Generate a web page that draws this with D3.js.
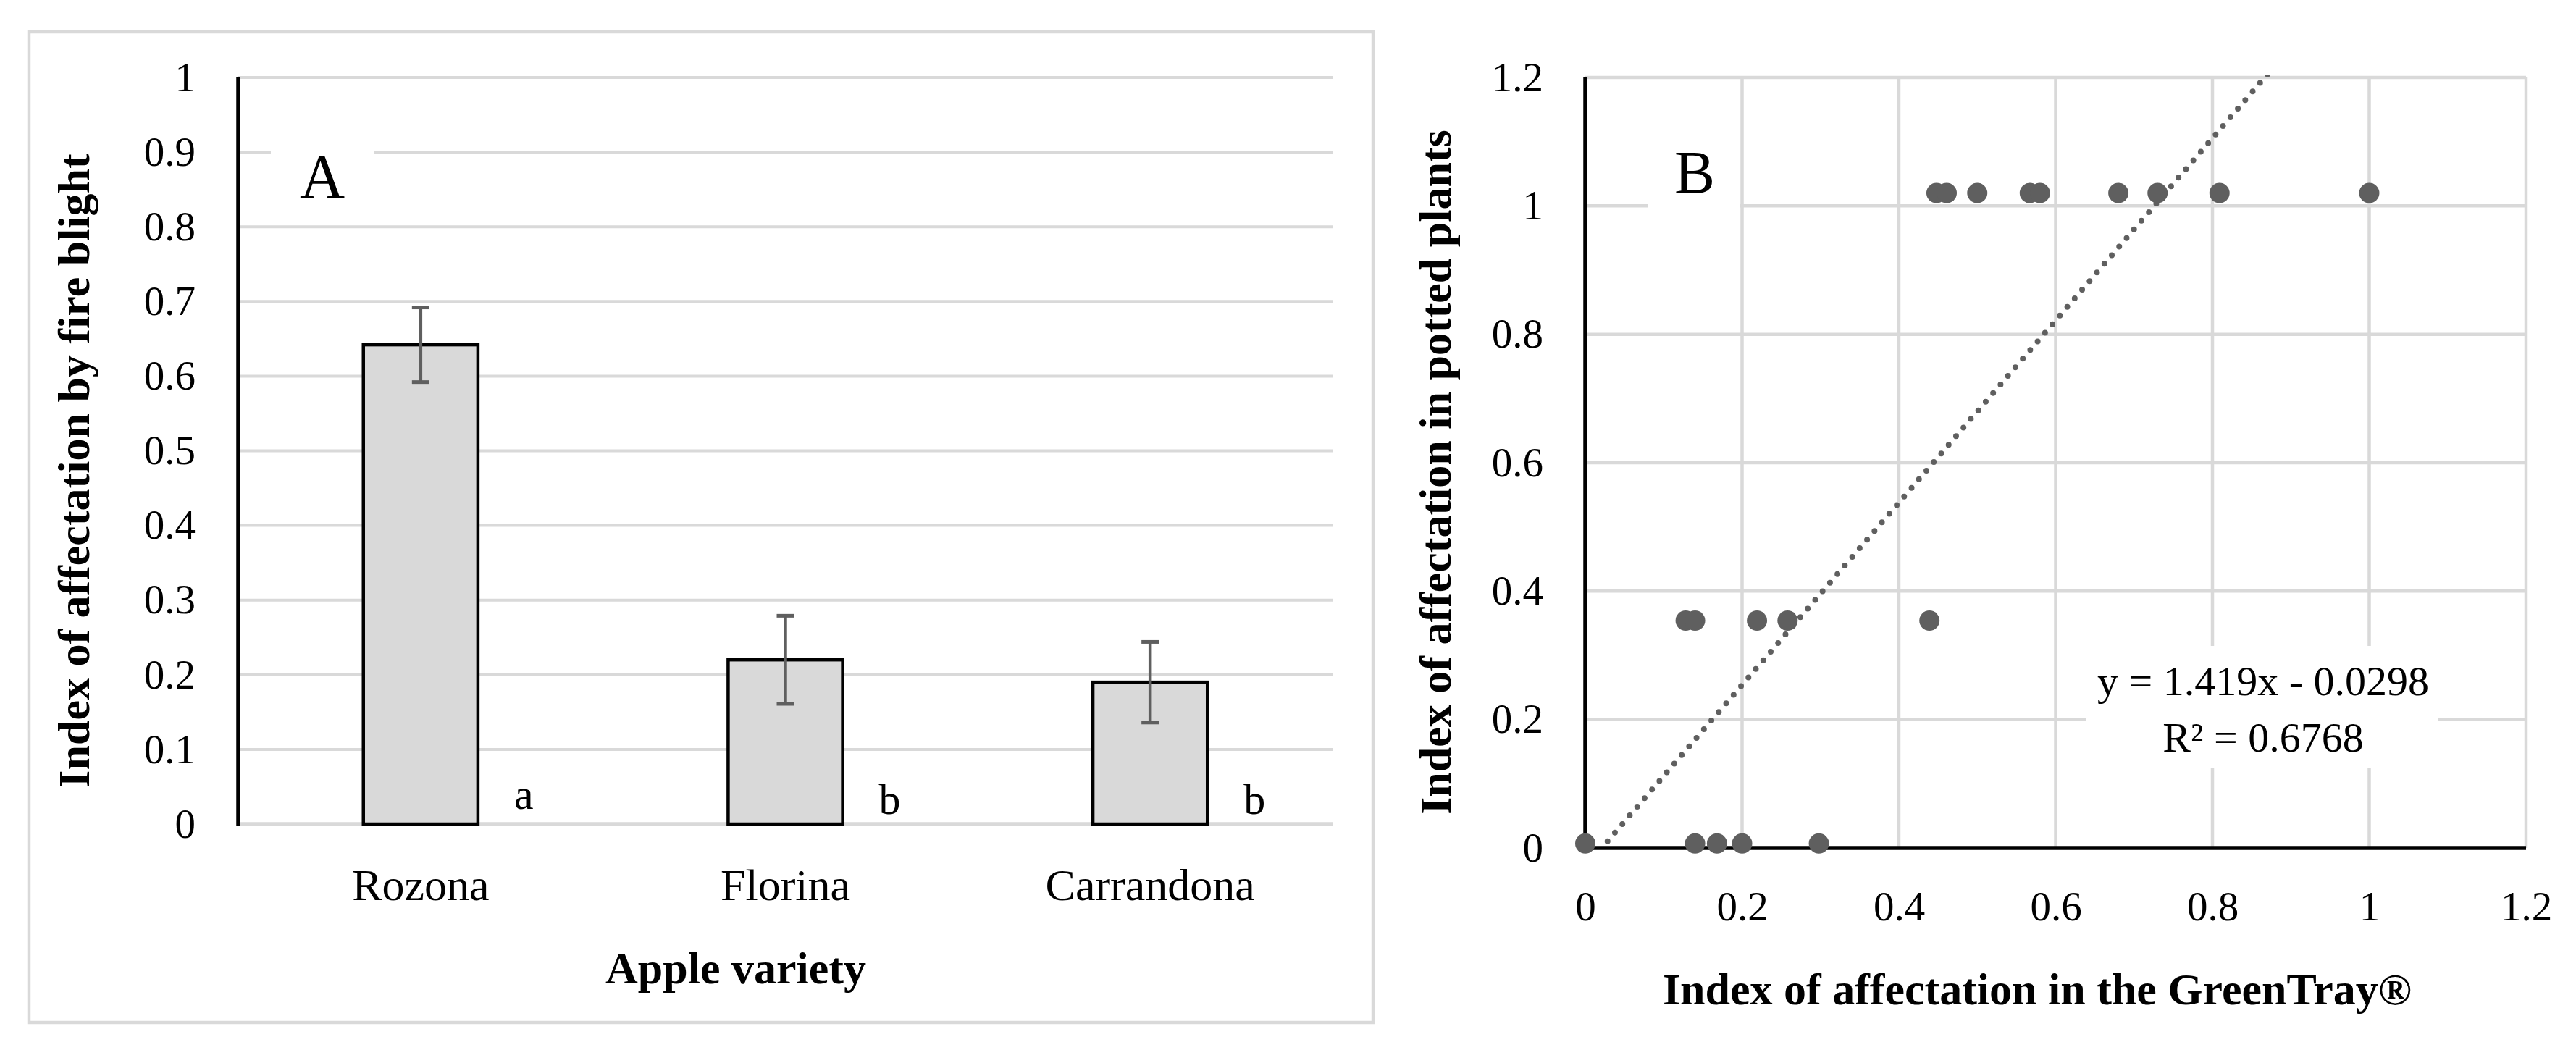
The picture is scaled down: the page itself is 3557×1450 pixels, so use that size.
<!DOCTYPE html>
<html>
<head>
<meta charset="utf-8">
<script src="https://cdn.jsdelivr.net/npm/d3@7"></script>
<style>
  html, body { margin: 0; padding: 0; background: #ffffff; }
  svg { display: block; }
  text { font-family: "Liberation Serif", "DejaVu Serif", serif; fill: #000; }
</style>
</head>
<body>
<script>
// ---------- Data: panel A ----------
const varieties = ["Rozona", "Florina", "Carrandona"];
const affectation = [0.642, 0.22, 0.19];
const affectationErr = [0.05, 0.059, 0.054];
const groupLetters = ["a", "b", "b"];
const yTicksA = [0, 0.1, 0.2, 0.3, 0.4, 0.5, 0.6, 0.7, 0.8, 0.9, 1];

// ---------- Data: panel B ----------
const greenTrayIndex = [0, 0.14, 0.168, 0.2, 0.298,
                        0.128, 0.14, 0.219, 0.258, 0.439,
                        0.448, 0.461, 0.5, 0.567, 0.58, 0.68, 0.73, 0.809, 1.0];
const pottedIndex    = [0.007, 0.007, 0.007, 0.007, 0.007,
                        0.354, 0.354, 0.354, 0.354, 0.354,
                        1.02, 1.02, 1.02, 1.02, 1.02, 1.02, 1.02, 1.02, 1.02];
const trendSlope = 1.419;
const trendIntercept = -0.0298;
const trendXRange = [0, 1];
const equationLines = ["y = 1.419x - 0.0298", "R\u00B2 = 0.6768"];
const ticksB = [0, 0.2, 0.4, 0.6, 0.8, 1, 1.2];

const W = 3557, H = 1450;
const GRID = "#d9d9d9";
const DARK = "#5f5f5f";

const svg = d3.select("body").append("svg")
  .attr("width", W).attr("height", H)
  .attr("viewBox", `0 0 ${W} ${H}`);
svg.append("rect").attr("width", W).attr("height", H).attr("fill", "#fff");

const fmt = d3.format("~g");

// ================= PANEL A =================
const gA = svg.append("g");
gA.append("rect")
  .attr("x", 40).attr("y", 44).attr("width", 1856).attr("height", 1368)
  .attr("fill", "none").attr("stroke", GRID).attr("stroke-width", 4.5);

const xA = d3.scaleBand().domain(varieties).range([329, 1840])
  .paddingInner(0.686).paddingOuter(0.343);
const yA = d3.scaleLinear().domain([0, 1]).range([1138, 107]);

// gridlines
gA.append("g").selectAll("line").data(yTicksA).join("line")
  .attr("x1", xA.range()[0]).attr("x2", xA.range()[1])
  .attr("y1", d => yA(d)).attr("y2", d => yA(d))
  .attr("stroke", GRID).attr("stroke-width", d => d === 0 ? 5.5 : 4);

// label box "A"
gA.append("rect").attr("x", 374).attr("y", 200).attr("width", 142).attr("height", 108).attr("fill", "#fff");
gA.append("text").attr("x", 445).attr("y", 273).attr("text-anchor", "middle")
  .style("font-size", "86px").text("A");

// bars
gA.append("g").selectAll("rect").data(varieties).join("rect")
  .attr("x", d => xA(d)).attr("width", xA.bandwidth())
  .attr("y", (d, i) => yA(affectation[i]))
  .attr("height", (d, i) => yA(0) - yA(affectation[i]))
  .attr("fill", "#d9d9d9").attr("stroke", "#000").attr("stroke-width", 4.5);

// error bars
const eb = gA.append("g").attr("stroke", DARK).attr("stroke-width", 4.5);
varieties.forEach((v, i) => {
  const cx = xA(v) + xA.bandwidth() / 2;
  const top = yA(affectation[i] + affectationErr[i]);
  const bot = yA(affectation[i] - affectationErr[i]);
  eb.append("line").attr("x1", cx).attr("x2", cx).attr("y1", top).attr("y2", bot);
  eb.append("line").attr("x1", cx - 12).attr("x2", cx + 12).attr("y1", top).attr("y2", top).attr("stroke-width", 5);
  eb.append("line").attr("x1", cx - 12).attr("x2", cx + 12).attr("y1", bot).attr("y2", bot).attr("stroke-width", 5);
});

// group letters
gA.append("g").selectAll("text").data(varieties).join("text")
  .attr("x", d => xA(d) + xA.bandwidth() + 50)
  .attr("y", (d, i) => groupLetters[i] === "a" ? 1117 : 1124)
  .style("font-size", "60px")
  .text((d, i) => groupLetters[i]);

// y axis A
const yAxisA = gA.append("g").attr("transform", `translate(329,0)`)
  .call(d3.axisLeft(yA).tickValues(yTicksA).tickSize(0).tickPadding(59).tickFormat(fmt));
yAxisA.select(".domain").remove();
yAxisA.selectAll("text").style("font-size", "57px").style("font-family", "Liberation Serif");
gA.append("line").attr("x1", 329).attr("x2", 329).attr("y1", yA(1)).attr("y2", yA(0) + 2)
  .attr("stroke", "#000").attr("stroke-width", 5.5);

// x axis A (labels)
const xAxisA = gA.append("g").attr("transform", `translate(0,${yA(0)})`)
  .call(d3.axisBottom(xA).tickSize(0).tickPadding(61));
xAxisA.select(".domain").remove();
xAxisA.selectAll("text").style("font-size", "62px").style("font-family", "Liberation Serif");

// titles A
gA.append("text").attr("x", 1016).attr("y", 1358).attr("text-anchor", "middle")
  .style("font-size", "62px").style("font-weight", "bold").text("Apple variety");
gA.append("text").attr("transform", "translate(123,650) rotate(-90)").attr("text-anchor", "middle")
  .style("font-size", "62px").style("font-weight", "bold").text("Index of affectation by fire blight");

// ================= PANEL B =================
const gB = svg.append("g");
const xB = d3.scaleLinear().domain([0, 1.2]).range([2189, 3488]);
const yB = d3.scaleLinear().domain([0, 1.2]).range([1171, 107]);

// gridlines
gB.append("g").selectAll("line").data(ticksB.filter(d => d > 0)).join("line")
  .attr("x1", xB(0)).attr("x2", xB(1.2))
  .attr("y1", d => yB(d)).attr("y2", d => yB(d))
  .attr("stroke", GRID).attr("stroke-width", 4.5);
gB.append("g").selectAll("line").data(ticksB.filter(d => d > 0)).join("line")
  .attr("y1", yB(0)).attr("y2", yB(1.2))
  .attr("x1", d => xB(d)).attr("x2", d => xB(d))
  .attr("stroke", GRID).attr("stroke-width", 4.5);

// label box "B"
gB.append("rect").attr("x", 2275).attr("y", 195).attr("width", 127).attr("height", 105).attr("fill", "#fff");
gB.append("text").attr("x", 2340).attr("y", 267).attr("text-anchor", "middle")
  .style("font-size", "84px").text("B");

// equation box
gB.append("rect").attr("x", 2881).attr("y", 892).attr("width", 485).attr("height", 168).attr("fill", "#fff");
gB.append("g").selectAll("text").data(equationLines).join("text")
  .attr("x", 3125).attr("y", (d, i) => i === 0 ? 960 : 1038)
  .attr("text-anchor", "middle").style("font-size", "58px").text(d => d);

// axes lines
gB.append("line").attr("x1", xB(0)).attr("x2", xB(0)).attr("y1", yB(1.2)).attr("y2", yB(0) + 2.5)
  .attr("stroke", "#000").attr("stroke-width", 5.5);
gB.append("line").attr("x1", xB(0) - 2.5).attr("x2", xB(1.2)).attr("y1", yB(0)).attr("y2", yB(0))
  .attr("stroke", "#000").attr("stroke-width", 5.5);

// tick labels
const yAxisB = gB.append("g").attr("transform", `translate(${xB(0)},0)`)
  .call(d3.axisLeft(yB).tickValues(ticksB).tickSize(0).tickPadding(58).tickFormat(fmt));
yAxisB.select(".domain").remove();
yAxisB.selectAll("text").style("font-size", "57px").style("font-family", "Liberation Serif");
const xAxisB = gB.append("g").attr("transform", `translate(0,${yB(0)})`)
  .call(d3.axisBottom(xB).tickValues(ticksB).tickSize(0).tickPadding(60).tickFormat(fmt));
xAxisB.select(".domain").remove();
xAxisB.selectAll("text").style("font-size", "57px").style("font-family", "Liberation Serif");

// titles B
gB.append("text").attr("x", 2813).attr("y", 1387).attr("text-anchor", "middle")
  .style("font-size", "62px").style("font-weight", "bold").text("Index of affectation in the GreenTray\u00AE");
gB.append("text").attr("transform", "translate(2003,652) rotate(-90)").attr("text-anchor", "middle")
  .style("font-size", "62px").style("font-weight", "bold").text("Index of affectation in potted plants");

// points
gB.append("g").selectAll("circle").data(greenTrayIndex).join("circle")
  .attr("cx", d => xB(d)).attr("cy", (d, i) => yB(pottedIndex[i]))
  .attr("r", 14).attr("fill", DARK);

// trendline (clipped to plot area)
svg.append("defs").append("clipPath").attr("id", "plotB")
  .append("rect").attr("x", xB(0)).attr("y", yB(1.2) - 4).attr("width", xB(1.2) - xB(0)).attr("height", yB(0) - yB(1.2));
const trendPts = trendXRange.map(x => [x, trendSlope * x + trendIntercept]);
const line = d3.line().x(d => xB(d[0])).y(d => yB(d[1]));
gB.append("path").attr("d", line(trendPts))
  .attr("clip-path", "url(#plotB)")
  .attr("fill", "none").attr("stroke", DARK).attr("stroke-width", 8)
  .attr("stroke-linecap", "round").attr("stroke-dasharray", "0 15.7");
</script>
</body>
</html>
